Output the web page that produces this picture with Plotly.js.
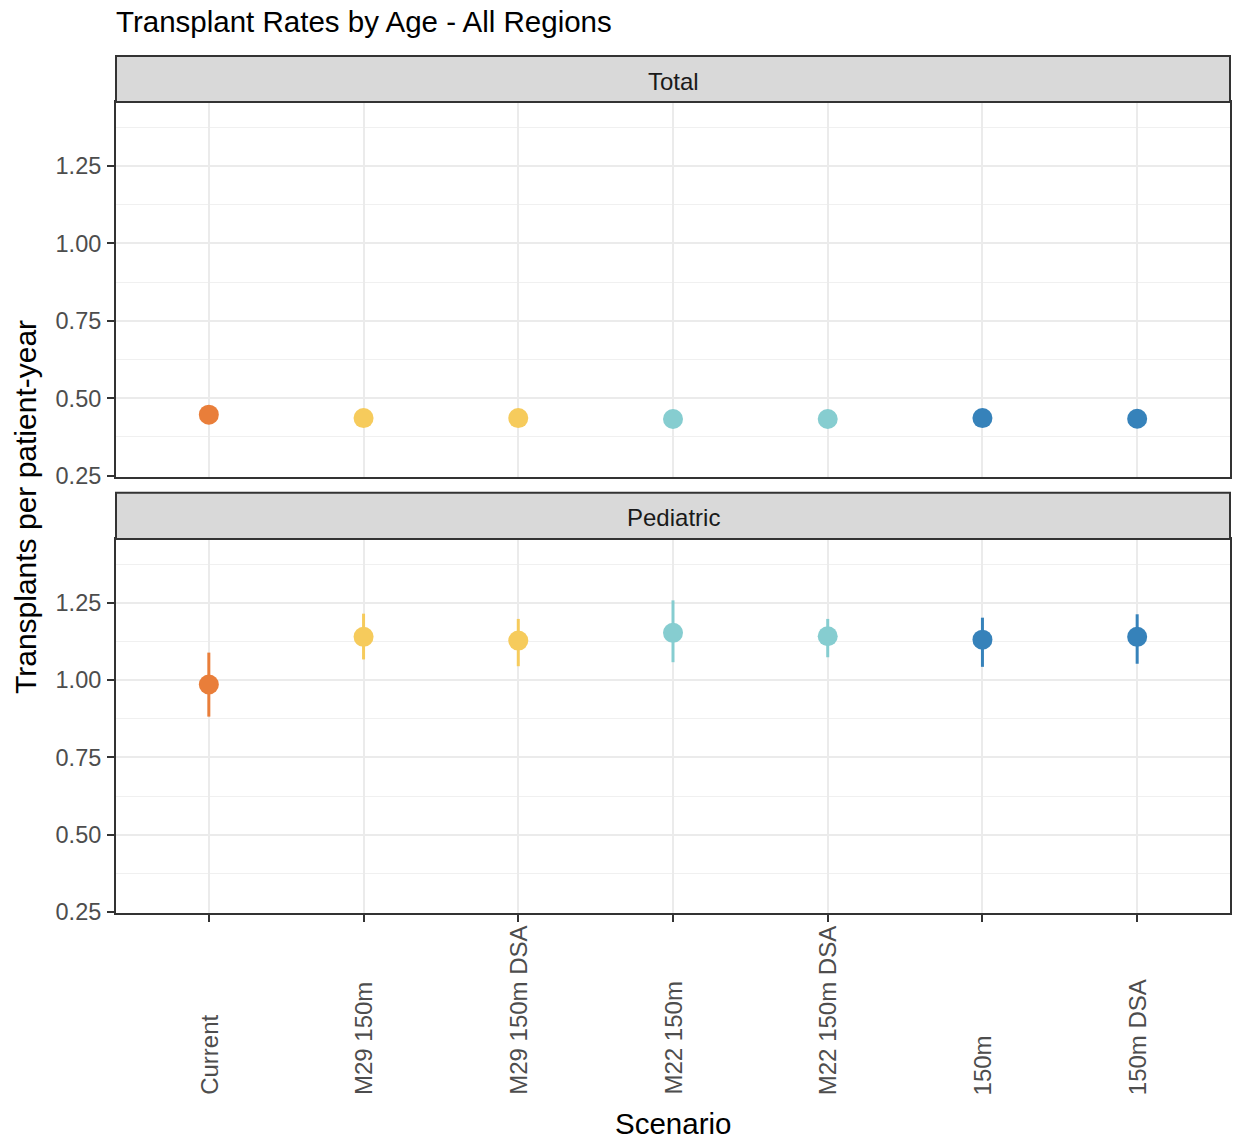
<!DOCTYPE html>
<html>
<head>
<meta charset="utf-8">
<script src="https://cdn.plot.ly/plotly-3.0.1.min.js"></script>
<style>html,body{margin:0;padding:0;background:#fff;}#chart{width:1235px;height:1140px;}</style>
</head>
<body>
<div id="chart"></div>
<script>
// ---- data ----
const scenarios = ["Current", "M29 150m", "M29 150m DSA", "M22 150m", "M22 150m DSA", "150m", "150m DSA"];
const scenarioColors = ["#E97E3A", "#F6CB5C", "#F6CB5C", "#86CDD0", "#86CDD0", "#3682BA", "#3682BA"];
const panels = ["Total", "Pediatric"];
const totalRate = [0.447, 0.436, 0.436, 0.433, 0.433, 0.436, 0.434];
const pediatricRate = [0.986, 1.140, 1.128, 1.153, 1.142, 1.131, 1.140];
const pediatricLow = [0.882, 1.067, 1.045, 1.058, 1.074, 1.043, 1.053];
const pediatricHigh = [1.089, 1.215, 1.198, 1.258, 1.198, 1.202, 1.213];

const FONT = "Liberation Sans, Arial, Helvetica, sans-serif";
const traces = [];
scenarios.forEach(function (s, i) {
  traces.push({
    x: [s], y: [totalRate[i]], xaxis: "x2", yaxis: "y2",
    type: "scatter", mode: "markers", showlegend: false, hoverinfo: "x+y",
    marker: {color: scenarioColors[i], size: 20, line: {width: 0}}
  });
  traces.push({
    x: [s], y: [pediatricRate[i]], xaxis: "x", yaxis: "y",
    type: "scatter", mode: "markers", showlegend: false, hoverinfo: "x+y",
    marker: {color: scenarioColors[i], size: 20, line: {width: 0}},
    error_y: {type: "data", symmetric: false,
      array: [pediatricHigh[i] - pediatricRate[i]],
      arrayminus: [pediatricRate[i] - pediatricLow[i]],
      color: scenarioColors[i], thickness: 3, width: 0}
  });
});

const yRange = [0.2468, 1.4565];
function yAxis(domain) {
  return {
    domain: domain, range: yRange, autorange: false, fixedrange: true,
    tick0: 0.25, dtick: 0.25, tickformat: ".2f",
    ticks: "outside", ticklen: 7, tickwidth: 2, tickcolor: "#333333",
    ticklabelstandoff: 1,
    tickfont: {family: FONT, size: 23.5, color: "#4D4D4D"},
    showgrid: true, gridcolor: "#EBEBEB", gridwidth: 2,
    minor: {dtick: 0.125, tick0: 0.125, showgrid: true, gridcolor: "#F0F0F0", gridwidth: 1, ticks: ""},
    showline: true, linecolor: "#333333", linewidth: 2, mirror: true,
    zeroline: false
  };
}
function xAxis(anchor, withTicks) {
  return {
    anchor: anchor, domain: [0, 1], type: "category",
    categoryorder: "array", categoryarray: scenarios,
    range: [-0.6, 6.6], autorange: false, fixedrange: true,
    showticklabels: false,
    ticks: withTicks ? "outside" : "", ticklen: 7, tickwidth: 2, tickcolor: "#333333",
    showgrid: true, gridcolor: "#EBEBEB", gridwidth: 2,
    showline: true, linecolor: "#333333", linewidth: 2, mirror: true,
    zeroline: false
  };
}

const H = 857; // plot area height (px)
const lowDom = [0, (913 - 539) / H];
const upDom = [(913 - 476.7) / H, (913 - 102) / H];
const upStrip = [(913 - 102) / H, 1];
const lowStrip = [(913 - 539) / H, (913 - 492.7) / H];

const annotations = [];
// strip labels
[[panels[0], upStrip], [panels[1], lowStrip]].forEach(function (p) {
  annotations.push({
    text: p[0], xref: "paper", yref: "paper", x: 0.5, y: (p[1][0] + p[1][1]) / 2 - 2 / H,
    xanchor: "center", yanchor: "middle", showarrow: false,
    font: {family: FONT, size: 24, color: "#1A1A1A"}
  });
});
// x tick labels (rotated, aligned at bottom)
scenarios.forEach(function (s) {
  annotations.push({
    text: s, xref: "x", yref: "paper", x: s, y: (913 - 1097) / H,
    xanchor: "center", yanchor: "bottom", textangle: -90, showarrow: false,
    font: {family: FONT, size: 24, color: "#4D4D4D"}
  });
});
// axis titles
annotations.push({
  text: "Scenario", xref: "paper", yref: "paper", x: 0.5, y: (913 - 1123) / H,
  xanchor: "center", yanchor: "middle", showarrow: false,
  font: {family: FONT, size: 29.5, color: "#000000"}
});
annotations.push({
  text: "Transplants per patient-year", xref: "paper", yref: "paper",
  x: (25 - 116) / 1114, y: (913 - 507) / H, textangle: -90,
  xanchor: "center", yanchor: "middle", showarrow: false,
  font: {family: FONT, size: 30, color: "#000000"}
});

const shapes = [upStrip, lowStrip].map(function (d) {
  return {type: "rect", xref: "paper", yref: "paper", x0: 0, x1: 1, y0: d[0], y1: d[1],
    fillcolor: "#D9D9D9", line: {color: "#333333", width: 2}, layer: "above"};
});

const layout = {
  width: 1235, height: 1140,
  margin: {l: 116, r: 5, t: 56, b: 227, pad: 0},
  paper_bgcolor: "#FFFFFF", plot_bgcolor: "#FFFFFF",
  font: {family: FONT},
  title: {text: "Transplant Rates by Age - All Regions", xref: "paper", x: 0, xanchor: "left",
    yref: "container", y: 1 - 22 / 1140, yanchor: "middle",
    font: {family: FONT, size: 29.5, color: "#000000"}},
  showlegend: false,
  xaxis: xAxis("y", true),
  xaxis2: Object.assign(xAxis("y2", false), {matches: "x"}),
  yaxis: yAxis(lowDom),
  yaxis2: yAxis(upDom),
  shapes: shapes,
  annotations: annotations
};

Plotly.newPlot("chart", traces, layout, {staticPlot: true, displayModeBar: false});
</script>
</body>
</html>
